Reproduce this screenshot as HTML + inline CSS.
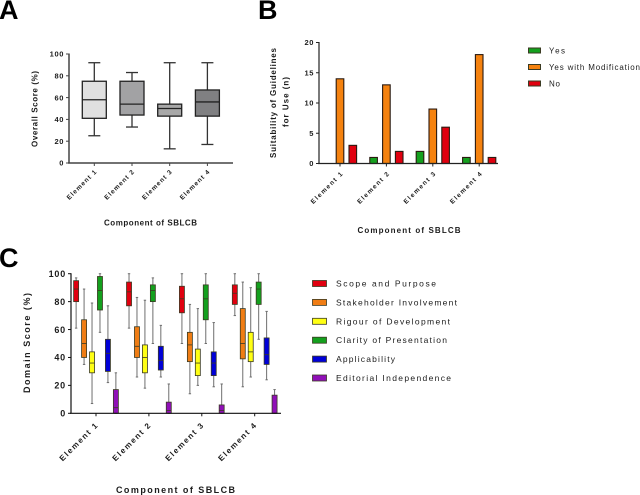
<!DOCTYPE html>
<html>
<head>
<meta charset="utf-8">
<style>
html,body{margin:0;padding:0;background:#fff;}
svg{display:block;font-family:"Liberation Sans",sans-serif;filter:blur(0.3px);}
text{fill:#1c1c1c;}
</style>
</head>
<body>
<svg id="fig" width="640" height="495" viewBox="0 0 640 495" xmlns="http://www.w3.org/2000/svg">
  <text x="-1" y="19" font-size="27" font-weight="bold" style="fill:#000">A</text>
  <text x="258" y="19" font-size="27" font-weight="bold" style="fill:#000">B</text>
  <text x="-1" y="267" font-size="27" font-weight="bold" style="fill:#000">C</text>

  <text transform="translate(37.5,109) rotate(-90)" text-anchor="middle" font-size="8" font-weight="bold" textLength="76">Overall Score (%)</text>
  <text x="150.5" y="225.5" text-anchor="middle" font-size="8" font-weight="bold" textLength="93">Component of SBLCB</text>

  <text transform="translate(276,103) rotate(-90)" text-anchor="middle" font-size="8" font-weight="bold" textLength="110">Suitability of Guidelines</text>
  <text transform="translate(288.5,102) rotate(-90)" text-anchor="middle" font-size="8" font-weight="bold" textLength="50">for Use (n)</text>
  <text x="409" y="233" text-anchor="middle" font-size="8" font-weight="bold" textLength="103">Component of SBLCB</text>

  <text transform="translate(30,343) rotate(-90)" text-anchor="middle" font-size="9" font-weight="bold" textLength="100">Domain Score (%)</text>
  <text x="175.5" y="493" text-anchor="middle" font-size="9" font-weight="bold" textLength="119">Component of SBLCB</text>

  <g id="panelA"></g>
  <g id="panelB"></g>
  <g id="panelC"></g>
  <g id="legendB"></g>
  <g id="legendC"></g>
</svg>
<script>
/* shared */
const categories = ["Element 1", "Element 2", "Element 3", "Element 4"];

/* panel A: overall score */
const aTicks = [0, 20, 40, 60, 80, 100];
const aMin = [25, 33, 13, 17];
const aQ1 = [41, 44, 43, 43];
const aMedian = [58, 54, 50, 56];
const aQ3 = [75, 75, 54, 67];
const aMax = [92, 83, 92, 92];
const aFills = ["#e0e0e0", "#a2a2a4", "#a8a8a8", "#808082"];

/* panel B: suitability counts */
const bTicks = [0, 5, 10, 15, 20];
const bSeriesNames = ["Yes", "Yes with Modification", "No"];
const bYes = [0, 1, 2, 1];
const bModification = [14, 13, 9, 18];
const bNo = [3, 2, 6, 1];
const bColors = ["#14a01e", "#f5820f", "#e0000f"];

/* panel C: domain scores, one row per element */
const cTicks = [0, 20, 40, 60, 80, 100];
const cSeriesNames = ["Scope and Purpose", "Stakeholder Involvement", "Rigour of Development", "Clarity of Presentation", "Applicability", "Editorial Independence"];
const cColors = ["#e0000f", "#f07d14", "#ffff14", "#14a01e", "#0000d8", "#9010b8"];
const cMin = [
  [61, 35, 7, 58, 22, 0],
  [61, 26, 18, 50, 26, 0],
  [50, 14, 20, 50, 19, 0],
  [70, 19, 26, 53, 24, 0]
];
const cQ1 = [
  [80, 40, 29, 74, 30, 0],
  [77, 40, 29, 80, 31, 0],
  [72, 37, 27, 67, 27, 0],
  [78, 39, 37, 78, 35, 0]
];
const cMedian = [
  [89, 50, 36, 88, 43, 4],
  [87, 48, 40, 88, 38, 2],
  [82, 49, 36, 82, 36, 2],
  [86, 50, 44, 89, 42, 0]
];
const cQ3 = [
  [95, 67, 44, 98, 53, 17],
  [94, 62, 49, 92, 48, 8],
  [91, 58, 46, 92, 44, 6],
  [92, 75, 58, 94, 54, 13]
];
const cMax = [
  [97, 89, 79, 100, 77, 29],
  [100, 83, 81, 97, 63, 21],
  [100, 78, 75, 100, 65, 21],
  [100, 94, 90, 100, 73, 17]
];

const NS = "http://www.w3.org/2000/svg";
function mk(parent, tag, attrs, txt) {
  const el = document.createElementNS(NS, tag);
  for (const k in attrs) el.setAttribute(k, attrs[k]);
  if (txt !== undefined) el.textContent = txt;
  parent.appendChild(el);
  return el;
}
function linear(d0, d1, r0, r1) {
  return v => r0 + (v - d0) * (r1 - r0) / (d1 - d0);
}

function drawAxes(g, cfg) {
  const xLine = mk(g, "line", {x1: cfg.x0 - 1, x2: cfg.x1, y1: cfg.y(cfg.ticks[0]), y2: cfg.y(cfg.ticks[0]), stroke: cfg.axisColor, "stroke-width": cfg.sw});
  
  
  const yLine = mk(g, "line", {x1: cfg.x0, x2: cfg.x0, y1: cfg.y(cfg.ticks[cfg.ticks.length - 1]) - 0.5, y2: cfg.y(cfg.ticks[0]), stroke: cfg.axisColor, "stroke-width": cfg.sw});
  
  
  cfg.ticks.forEach(t => {
    const py = cfg.y(t);
    const mark = mk(g, "line", {x1: cfg.x0 - 3, x2: cfg.x0, y1: py, y2: py, stroke: cfg.axisColor, "stroke-width": 1});
    
    
    const lab = mk(g, "text", {x: cfg.x0 - 5, y: py + cfg.tickFont * 0.36, "text-anchor": "end", "font-size": cfg.tickFont, "font-weight": "bold", "letter-spacing": cfg.tickSpacing}, String(t));
    
    
  });
  categories.forEach((c, i) => {
    const px = cfg.centers(i);
    const base = cfg.y(cfg.ticks[0]);
    const mark = mk(g, "line", {x1: px, x2: px, y1: base, y2: base + 3, stroke: cfg.axisColor, "stroke-width": 1});
    
    
    const tx = px + cfg.labelDx;
    const ty = base + cfg.labelDy;
    const lab = mk(g, "text", {transform: "translate(" + tx + "," + ty + ") rotate(-45)", "text-anchor": "end", "font-size": cfg.labelFont, "font-weight": "bold", textLength: cfg.labelLength}, c);
    
    
  });
}

function drawBox(g, cx, w, y, lo, q1, med, q3, hi, fill, stroke, sw, capW, whiskerColor, whiskerWidth) {
  const wh = mk(g, "line", {x1: cx, x2: cx, y1: y(hi), y2: y(lo), stroke: whiskerColor, "stroke-width": whiskerWidth});
  
  
  const capTop = mk(g, "line", {x1: cx - capW / 2, x2: cx + capW / 2, y1: y(hi), y2: y(hi), stroke: whiskerColor, "stroke-width": whiskerWidth});
  
  
  const capLow = mk(g, "line", {x1: cx - capW / 2, x2: cx + capW / 2, y1: y(lo), y2: y(lo), stroke: whiskerColor, "stroke-width": whiskerWidth});
  
  
  const box = mk(g, "rect", {x: cx - w / 2, y: y(q3), width: w, height: y(q1) - y(q3), fill: fill, stroke: stroke, "stroke-width": sw});
  
  
  const m = mk(g, "line", {x1: cx - w / 2, x2: cx + w / 2, y1: y(med), y2: y(med), stroke: stroke, "stroke-width": sw});
  
  
}

/* Panel A */
(function () {
  const g = document.getElementById("panelA");
  const y = linear(0, 100, 163, 54);
  const cx = i => 94.3 + i * 37.7;
  categories.forEach((c, i) => {
    drawBox(g, cx(i), 24, y, aMin[i], aQ1[i], aMedian[i], aQ3[i], aMax[i], aFills[i], "#222", 1.3, 12, "#333", 1.3);
  });
  drawAxes(g, {x0: 69, x1: 233, y: y, ticks: aTicks, centers: cx, axisColor: "#444", sw: 1.5, tickFont: 7.5, tickSpacing: 0.6, labelFont: 6.5, labelDx: 2.5, labelDy: 9.5, labelLength: 39});
})();

/* Panel B */
(function () {
  const g = document.getElementById("panelB");
  const y = linear(0, 20, 163.5, 42.5);
  const cx = i => 340 + i * 46.4;
  const series = [bYes, bModification, bNo];
  const offsets = [-1, 0, 1];
  series.forEach((vals, s) => {
    vals.forEach((v, i) => {
      if (v <= 0) return;
      const r = mk(g, "rect", {x: cx(i) + offsets[s] * 12.8 - 3.8, y: y(v), width: 7.6, height: y(0) - y(v), fill: bColors[s], stroke: "#2a1a10", "stroke-width": 1.1});
      
      
    });
  });
  drawAxes(g, {x0: 319, x1: 498, y: y, ticks: bTicks, centers: cx, axisColor: "#222", sw: 1.2, tickFont: 7.5, tickSpacing: 0.6, labelFont: 6.5, labelDx: 3, labelDy: 11, labelLength: 42});
})();

/* Panel C */
(function () {
  const g = document.getElementById("panelC");
  const y = linear(0, 100, 413.3, 273.7);
  const cx = i => 96 + i * 52.9;
  const offs = [-2.5, -1.5, -0.5, 0.5, 1.5, 2.5];
  categories.forEach((c, i) => {
    cSeriesNames.forEach((n, s) => {
      drawBox(g, cx(i) + offs[s] * 7.95, 5, y, cMin[i][s], cQ1[i][s], cMedian[i][s], cQ3[i][s], cMax[i][s], cColors[s], "#3a3a22", 0.8, 2.4, "#6e6e6e", 1);
    });
  });
  drawAxes(g, {x0: 71, x1: 281, y: y, ticks: cTicks, centers: cx, axisColor: "#111", sw: 1.2, tickFont: 9, tickSpacing: 0.8, labelFont: 8, labelDx: 2, labelDy: 13, labelLength: 50});
})();

/* Legends */
(function () {
  const g = document.getElementById("legendB");
  const widths = [16, 91, 11];
  bSeriesNames.forEach((n, i) => {
    const py = 50.5 + i * 16.5;
    const sw = mk(g, "rect", {x: 528.5, y: py - 2.5, width: 12, height: 5, fill: bColors[i], stroke: "#3a3a22", "stroke-width": 1});
    
    
    const t = mk(g, "text", {x: 549, y: py + 3, "font-size": 8, textLength: widths[i]}, n);
    
    
  });
})();
(function () {
  const g = document.getElementById("legendC");
  const widths = [100, 121, 114, 111, 59, 115];
  cSeriesNames.forEach((n, i) => {
    const py = 283.5 + i * 18.9;
    const sw = mk(g, "rect", {x: 312.5, y: py - 3, width: 14, height: 6, fill: cColors[i], stroke: "#3a3a22", "stroke-width": 0.8});
    
    
    const t = mk(g, "text", {x: 336, y: py + 3, "font-size": 8.5, textLength: widths[i]}, n);
    
    
  });
})();
</script>
</body>
</html>
